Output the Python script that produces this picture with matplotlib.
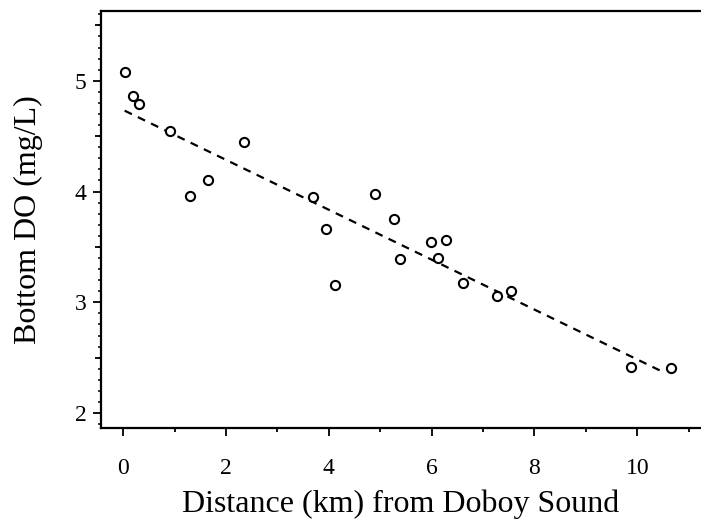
import matplotlib

matplotlib.use("Agg")

import matplotlib.pyplot as plt
from matplotlib.ticker import FixedLocator, MultipleLocator

# distance from Doboy Sound (km) and bottom dissolved oxygen (mg/L)
distance_km = [0.03, 0.19, 0.31, 0.91, 1.30, 1.65, 2.35, 3.69, 3.94, 4.12, 4.89,
               5.26, 5.38, 5.98, 6.12, 6.28, 6.61, 7.27, 7.54, 9.88, 10.66]
bottom_do = [5.08, 4.86, 4.79, 4.55, 3.96, 4.10, 4.45, 3.95, 3.66, 3.16, 3.98,
             3.75, 3.39, 3.54, 3.40, 3.56, 3.17, 3.06, 3.10, 2.42, 2.41]

# regression line end points
fit_x = [0.03, 10.55]
fit_y = [4.73, 2.36]

x_ticks = [0, 2, 4, 6, 8, 10]
y_ticks = [2, 3, 4, 5]

plt.rcParams["font.family"] = ["Liberation Serif", "DejaVu Serif"]

fig = plt.figure(figsize=(7.01, 5.19), dpi=100)
ax = fig.add_axes([0.1441, 0.1753, 0.8559, 0.8035])

ax.plot(fit_x, fit_y, color="black", linewidth=1.6, linestyle=(0, (3.6, 3.0)))
ax.plot(distance_km, bottom_do, linestyle="none", marker="o", markersize=6.6,
        markerfacecolor="white", markeredgecolor="black", markeredgewidth=1.5)

ax.set_xlim(-0.43, 11.24)
ax.set_ylim(1.865, 5.63)

ax.xaxis.set_major_locator(FixedLocator(x_ticks))
ax.xaxis.set_minor_locator(FixedLocator([1, 3, 5, 7, 9, 11]))
ax.yaxis.set_major_locator(FixedLocator(y_ticks))
ax.yaxis.set_minor_locator(MultipleLocator(0.1))

ax.tick_params(axis="both", which="major", direction="out", length=5.5, width=1.3,
               labelsize=17, color="black")
ax.tick_params(axis="x", which="major", pad=16)
ax.tick_params(axis="y", which="major", pad=5)
ax.tick_params(axis="x", which="minor", direction="out", length=3, width=1.3)
ax.tick_params(axis="y", which="minor", direction="out", length=2, width=1.1)

# medium ticks at the half units on y
half = ax.secondary_yaxis("left")
half.set_yticks([2.5, 3.5, 4.5, 5.5])
half.tick_params(axis="y", direction="out", length=4, width=1.3, labelleft=False)
half.spines["left"].set_visible(False)

for side in ["left", "bottom", "top"]:
    ax.spines[side].set_linewidth(1.6)
ax.spines["right"].set_visible(False)

ax.set_xlabel("Distance (km) from Doboy Sound", fontsize=23, labelpad=8)
ax.set_ylabel("Bottom DO (mg/L)", fontsize=23, labelpad=23)

fig.savefig("out.png", dpi=100)
plt.close(fig)
